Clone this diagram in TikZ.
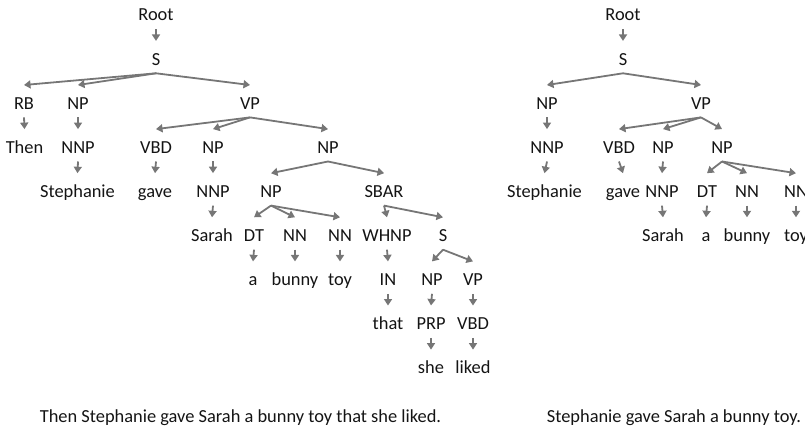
\documentclass[tikz,border=0pt]{standalone}
\usepackage{fontspec}
\setmainfont{Carlito}
\usetikzlibrary{arrows.meta}
\definecolor{arrc}{RGB}{118,118,118}
\definecolor{txt}{RGB}{20,20,20}
\newcommand{\tfont}{\fontsize{18.4}{22}\selectfont}
\tikzset{
  lbl/.style={anchor=base, inner sep=0pt, text height=24pt, text depth=8pt, font=\tfont, text=txt},
  captext/.style={anchor=base, inner sep=0pt, font=\tfont, text=txt},
  arr/.style={draw=arrc, line width=1.8pt, -{Triangle[width=8pt,length=6.5pt]}}
}
\begin{document}
\begin{tikzpicture}[x=1pt,y=-1pt]
\clip (0,0) rectangle (805,430);
% ---------- left tree ----------
\node[lbl] (lroot) at (156,21) {Root};
\node[lbl] (ls) at (156,65.1) {S};
\node[lbl] (lrb) at (24,109.2) {RB};
\node[lbl] (lnp1) at (78,109.2) {NP};
\node[lbl] (lvp) at (250,109.2) {VP};
\node[lbl] (lthen) at (24.5,153.3) {Then};
\node[lbl] (lnnp1) at (78,153.3) {NNP};
\node[lbl] (lvbd) at (156,153.3) {VBD};
\node[lbl] (lnp2) at (213,153.3) {NP};
\node[lbl] (lnp3) at (328,153.3) {NP};
\node[lbl] (lsteph) at (77.5,197.4) {Stephanie};
\node[lbl] (lgave) at (155,197.4) {gave};
\node[lbl] (lnnp2) at (213,197.4) {NNP};
\node[lbl] (lnp4) at (271,197.4) {NP};
\node[lbl] (lsbar) at (384,197.4) {SBAR};
\node[lbl] (lsarah) at (212,241.5) {Sarah};
\node[lbl] (ldt) at (254,241.5) {DT};
\node[lbl] (lnn1) at (295,241.5) {NN};
\node[lbl] (lnn2) at (340,241.5) {NN};
\node[lbl] (lwhnp) at (387,241.5) {WHNP};
\node[lbl] (ls2) at (443,241.5) {S};
\node[lbl] (la) at (253,285.6) {a};
\node[lbl] (lbunny) at (295,285.6) {bunny};
\node[lbl] (ltoy) at (340,285.6) {toy};
\node[lbl] (lin) at (388,285.6) {IN};
\node[lbl] (lnp5) at (432,285.6) {NP};
\node[lbl] (lvp2) at (473,285.6) {VP};
\node[lbl] (lthat) at (388,329.7) {that};
\node[lbl] (lprp) at (431,329.7) {PRP};
\node[lbl] (lvbd2) at (473,329.7) {VBD};
\node[lbl] (lshe) at (431,373.8) {she};
\node[lbl] (lliked) at (473,373.8) {liked};
\foreach \a/\b in {lroot/ls, ls/lrb, ls/lnp1, ls/lvp, lrb/lthen, lnp1/lnnp1, lnnp1/lsteph,
  lvp/lvbd, lvp/lnp2, lvp/lnp3, lvbd/lgave, lnp2/lnnp2, lnnp2/lsarah, lnp3/lnp4, lnp3/lsbar,
  lnp4/ldt, lnp4/lnn1, lnp4/lnn2, ldt/la, lnn1/lbunny, lnn2/ltoy, lsbar/lwhnp, lsbar/ls2,
  lwhnp/lin, lin/lthat, ls2/lnp5, ls2/lvp2, lnp5/lprp, lprp/lshe, lvp2/lvbd2, lvbd2/lliked}
  \draw[arr] (\a.south) -- (\b.north);
% ---------- right tree ----------
\node[lbl] (rroot) at (623,21) {Root};
\node[lbl] (rs) at (623,65.1) {S};
\node[lbl] (rnp1) at (547,109.2) {NP};
\node[lbl] (rvp) at (701,109.2) {VP};
\node[lbl] (rnnp1) at (547,153.3) {NNP};
\node[lbl] (rvbd) at (619,153.3) {VBD};
\node[lbl] (rnp2) at (663,153.3) {NP};
\node[lbl] (rnp3) at (722,153.3) {NP};
\node[lbl] (rsteph) at (544.5,197.4) {Stephanie};
\node[lbl] (rgave) at (623,197.4) {gave};
\node[lbl] (rnnp2) at (662,197.4) {NNP};
\node[lbl] (rdt) at (707,197.4) {DT};
\node[lbl] (rnn1) at (747,197.4) {NN};
\node[lbl] (rnn2) at (796,197.4) {NN};
\node[lbl] (rsarah) at (663,241.5) {Sarah};
\node[lbl] (ra) at (706,241.5) {a};
\node[lbl] (rbunny) at (747,241.5) {bunny};
\node[lbl] (rtoy) at (796,241.5) {toy};
\foreach \a/\b in {rroot/rs, rs/rnp1, rs/rvp, rnp1/rnnp1, rnnp1/rsteph, rvp/rvbd, rvp/rnp2, rvp/rnp3,
  rvbd/rgave, rnp2/rnnp2, rnnp2/rsarah, rnp3/rdt, rnp3/rnn1, rnp3/rnn2, rdt/ra, rnn1/rbunny, rnn2/rtoy}
  \draw[arr] (\a.south) -- (\b.north);
% ---------- captions ----------
\node[captext] (lcap) at (240.5,422) {Then Stephanie gave Sarah a bunny toy that she liked.};
\node[captext] (rcap) at (674,422) {Stephanie gave Sarah a bunny toy.};
\end{tikzpicture}
\end{document}
